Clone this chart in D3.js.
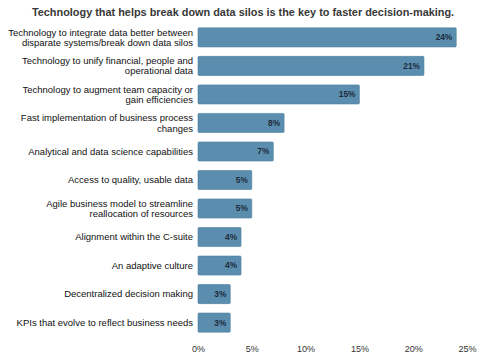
<!DOCTYPE html>
<html>
<head>
<meta charset="utf-8">
<script src="https://cdn.jsdelivr.net/npm/d3@7"></script>
<style>
  body { margin: 0; background: #fff; }
  svg { font-family: "Liberation Sans", Arial, sans-serif; }
  .title { font-size: 10.9px; font-weight: bold; fill: #383838; }
  .cat { font-size: 9.5px; fill: #111; }
  .val { font-size: 8.3px; font-weight: bold; fill: #1d2a3a; }
  .axis text { font-size: 9px; fill: #333; }
  .axis path, .axis line { display: none; }
</style>
</head>
<body>
<script>
var categories = [
  ['Technology to integrate data better between', 'disparate systems/break down data silos'],
  ['Technology to unify financial, people and', 'operational data'],
  ['Technology to augment team capacity or', 'gain efficiencies'],
  ['Fast implementation of business process', 'changes'],
  ['Analytical and data science capabilities'],
  ['Access to quality, usable data'],
  ['Agile business model to streamline', 'reallocation of resources'],
  ['Alignment within the C-suite'],
  ['An adaptive culture'],
  ['Decentralized decision making'],
  ['KPIs that evolve to reflect business needs']
];
var values = [24, 21, 15, 8, 7, 5, 5, 4, 4, 3, 3];
var ticks = [0, 5, 10, 15, 20, 25];
var title = 'Technology that helps break down data silos is the key to faster decision-making.';

var width = 480, height = 362,
    margin = { top: 23, right: 13, bottom: 26, left: 198 },
    chartWidth = width - margin.left - margin.right,
    chartHeight = 337 - margin.top;

var svg = d3.select('body').append('svg')
  .attr('width', width)
  .attr('height', height);

svg.append('text')
  .attr('class', 'title')
  .attr('x', 243)
  .attr('y', 15.5)
  .attr('text-anchor', 'middle')
  .text(title);

var g = svg.append('g')
  .attr('transform', 'translate(' + margin.left + ',' + margin.top + ')');

var x = d3.scaleLinear().domain([0, 25]).range([0, 269]);
var y = d3.scaleBand()
  .domain(d3.range(values.length))
  .range([0, chartHeight])
  .paddingInner(0.33)
  .paddingOuter(0.17);

g.selectAll('rect.bar')
  .data(values)
  .enter().append('rect')
    .attr('class', 'bar')
    .attr('x', 0)
    .attr('y', function (d, i) { return y(i); })
    .attr('width', function (d) { return x(d); })
    .attr('height', y.bandwidth())
    .attr('rx', 1)
    .attr('fill', '#5b8eae')
    .attr('stroke', '#4f7f9e')
    .attr('stroke-width', 0.6);

g.selectAll('text.val')
  .data(values)
  .enter().append('text')
    .attr('class', 'val')
    .attr('x', function (d) { return x(d) - 4; })
    .attr('y', function (d, i) { return y(i) + y.bandwidth() / 2; })
    .attr('dy', '0.35em')
    .attr('text-anchor', 'end')
    .text(function (d) { return d + '%'; });

var cats = g.selectAll('text.cat')
  .data(categories)
  .enter().append('text')
    .attr('class', 'cat')
    .attr('text-anchor', 'end')
    .attr('x', -5)
    .attr('y', function (d, i) { return y(i) + y.bandwidth() / 2; });

cats.selectAll('tspan')
  .data(function (d) { return d; })
  .enter().append('tspan')
    .attr('x', -5)
    .attr('dy', function (d, j, n) {
      var off = -(n.length - 1) * 0.55 + 0.35;
      return j === 0 ? off + 'em' : '1.1em';
    })
    .text(function (d) { return d; });

var xAxis = d3.axisBottom(x)
  .tickValues(ticks)
  .tickSize(0)
  .tickPadding(0)
  .tickFormat(function (d) { return d + '%'; });

g.append('g')
  .attr('class', 'x axis')
  .attr('transform', 'translate(0,' + (349 - margin.top) + ')')
  .call(xAxis)
  .selectAll('text').attr('dy', '0.35em');
</script>
</body>
</html>
